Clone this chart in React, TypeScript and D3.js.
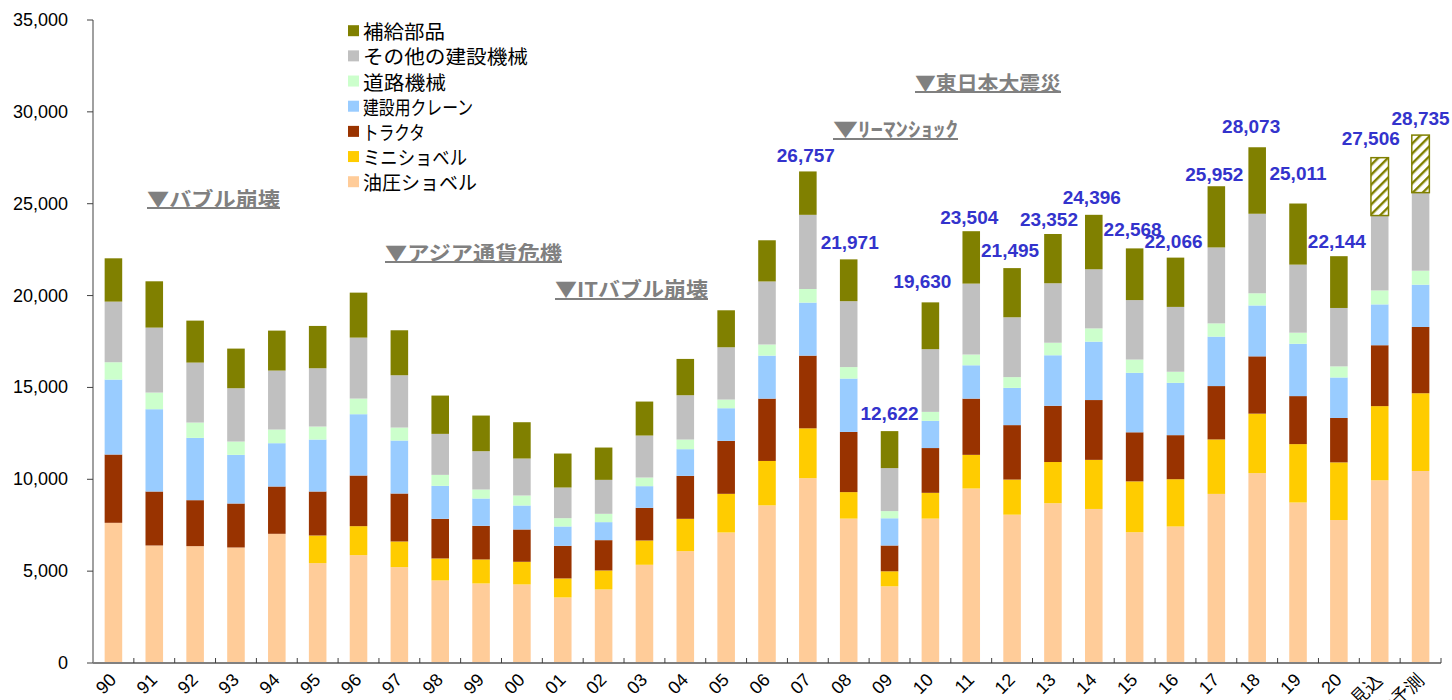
import React from "react";
import * as d3 from "d3";

// ---------- data ----------
const years = ["90","91","92","93","94","95","96","97","98","99","00","01","02","03","04","05","06","07","08","09","10","11","12","13","14","15","16","17","18","19","20","21見込","22予測"];

const hydraulicExcavators = [7631,6397,6361,6288,7032,5436,5871,5219,4493,4330,4276,3568,4004,5346,6089,7105,8580,10062,7859,4173,7859,9497,8073,8697,8385,7118,7430,9204,10335,8736,7781,9945,10452];
const miniExcavators = [0,0,0,0,0,1505,1578,1396,1197,1306,1233,1034,1033,1323,1759,2103,2418,2711,1443,819,1404,1833,1911,2243,2672,2769,2574,2964,3237,3179,3139,4037,4232];
const tractors = [3717,2938,2502,2394,2575,2394,2756,2611,2158,1831,1759,1777,1650,1777,2339,2883,3393,3958,3276,1404,2437,3061,2964,3061,3256,2671,2398,2906,3120,2613,2418,3315,3607];
const cranes = [4080,4479,3391,2647,2357,2829,3337,2883,1795,1487,1305,1052,980,1179,1451,1777,2340,2886,2905,1482,1482,1814,2028,2750,3179,3237,2847,2691,2769,2847,2204,2223,2301];
const roadMachinery = [943,906,834,726,744,707,852,707,598,490,544,453,453,471,526,472,605,741,624,390,488,585,585,682,721,722,605,721,663,604,604,760,761];
const otherMachinery = [3300,3536,3264,2901,3209,3173,3318,2847,2231,2085,2013,1668,1849,2285,2411,2846,3432,4037,3588,2340,3412,3861,3257,3237,3218,3237,3529,4134,4329,3705,3179,4076,4251];
const spareParts = [2357,2521,2285,2158,2176,2303,2448,2448,2085,1940,1976,1850,1759,1850,1977,2013,2242,2362,2276,2014,2548,2853,2677,2682,2965,2814,2683,3332,3620,3327,2819,3150,3131];

const seriesNames = ["油圧ショベル","ミニショベル","トラクタ","建設用クレーン","道路機械","その他の建設機械","補給部品"];
const seriesValues = [hydraulicExcavators, miniExcavators, tractors, cranes, roadMachinery, otherMachinery, spareParts];
const seriesColors = ["#FFCC99","#FFCC00","#993300","#99CCFF","#CCFFCC","#C0C0C0","#808000"];

const yTicks = [0,5000,10000,15000,20000,25000,30000,35000];
const labeledYears = ["07","08","09","10","11","12","13","14","15","16","17","18","19","20","21見込","22予測"];
const forecastYears = ["21見込","22予測"];
const eventLabels = ["▼バブル崩壊","▼アジア通貨危機","▼ITバブル崩壊","▼ﾘｰﾏﾝｼｮｯｸ","▼東日本大震災"];

// ---------- layout (not data) ----------
const W = 1452, H = 700;
const X0 = 93, X1 = 1441, YB = 663, YT = 20;
// label placement tweaks: [dx, distance above bar top]
const labelPlacement: Record<string, [number, number]> = {
  "07": [-2, 16], "08": [1, 17], "09": [0, 18], "10": [-8, 21], "11": [-2, 14],
  "12": [-2, 18], "13": [-4, 14], "14": [-2, 17], "15": [-2, 19], "16": [-2, 16],
  "17": [-2, 12], "18": [-6, 21], "19": [0, 30], "20": [-2, 15], "21見込": [-9, 19], "22予測": [0, 17],
};
const eventPlacement = [
  { x: 147, y: 198, w: 133, u: 208 },
  { x: 385, y: 252, w: 177, u: 262 },
  { x: 555, y: 288, w: 153, u: 299 },
  { x: 833, y: 128, w: 125, u: 139 },
  { x: 915, y: 82, w: 146, u: 92 },
];
// legend text widths (bottom series first)
const legendWidths = [114, 104, 62, 110, 83, 165, 82];

export default function App() {
  const x = d3.scaleBand<string>().domain(years).range([X0, X1]).paddingInner(0.57).paddingOuter(0.285);
  const y = d3.scaleLinear().domain([0, 35000]).range([YB, YT]);
  const step = x.step();
  const bw = x.bandwidth();

  const table = years.map((yr, i) => {
    const row: any = { year: yr };
    seriesNames.forEach((s, k) => (row[s] = seriesValues[k][i]));
    return row;
  });
  const stacked = d3.stack<any>().keys(seriesNames)(table);
  const totals = table.map((r) => d3.sum(seriesNames, (s) => r[s] as number));
  const fmt = d3.format(",");

  const cjk = "'Noto Sans CJK JP', 'Noto Sans', sans-serif";
  const latin = "'Liberation Sans', Arial, sans-serif";
  const olive = seriesColors[6];

  return (
    <svg width={W} height={H} style={{ position: "absolute", left: 0, top: 0, background: "#fff" }}>
      <defs>
        <pattern id="hatch" patternUnits="userSpaceOnUse" width={7} height={7} patternTransform="rotate(45)">
          <rect x={0} y={0} width={7} height={7} fill="#fff" />
          <rect x={0} y={0} width={2.4} height={7} fill={olive} />
        </pattern>
      </defs>

      {/* bars */}
      {stacked.map((layer, k) => (
        <g key={layer.key}>
          {layer.map((d, i) => {
            const yr = years[i];
            const isForecastParts = k === 6 && forecastYears.includes(yr);
            const h = y(d[0]) - y(d[1]);
            if (h <= 0) return null;
            return (
              <rect
                key={yr}
                x={x(yr)!}
                y={y(d[1])}
                width={bw}
                height={h}
                fill={isForecastParts ? "url(#hatch)" : seriesColors[k]}
                stroke={isForecastParts ? olive : "none"}
                strokeWidth={isForecastParts ? 1.5 : 0}
              />
            );
          })}
        </g>
      ))}

      {/* y axis */}
      <line x1={X0} x2={X0} y1={YT} y2={YB} stroke="#808080" strokeWidth={1.5} />
      {yTicks.map((t) => (
        <g key={t}>
          <line x1={X0 - 6} x2={X0} y1={y(t)} y2={y(t)} stroke="#404040" strokeWidth={1} />
          <text x={68} y={y(t)} textAnchor="end" dominantBaseline="central" fontFamily={latin} fontSize={18} fill="#000">
            {fmt(t)}
          </text>
        </g>
      ))}

      {/* x axis */}
      <line x1={X0} x2={X1} y1={YB} y2={YB} stroke="#808080" strokeWidth={2} />
      {years.map((yr) => (
        <line key={"t" + yr} x1={x(yr)! - (step - bw) / 2 + step} x2={x(yr)! - (step - bw) / 2 + step} y1={YB} y2={YB - 5} stroke="#404040" strokeWidth={1} />
      ))}
      {years.map((yr) => {
        const cx = x(yr)! + bw / 2 + 4;
        const cy = 681;
        return (
          <text key={"l" + yr} x={cx} y={cy} textAnchor="end" fontFamily={latin} fontSize={18} fill="#000" transform={`rotate(-45 ${cx} ${cy})`}>
            {yr}
          </text>
        );
      })}

      {/* value labels */}
      {years.map((yr, i) => {
        if (!labeledYears.includes(yr)) return null;
        const [dx, above] = labelPlacement[yr] || [0, 16];
        return (
          <text key={"v" + yr} x={x(yr)! + bw / 2 + dx} y={y(totals[i]) - above} textAnchor="middle" dominantBaseline="central" fontFamily={latin} fontWeight="bold" fontSize={19} fill="#3333CC">
            {fmt(totals[i])}
          </text>
        );
      })}

      {/* event annotations */}
      {eventLabels.map((t, i) => {
        const p = eventPlacement[i];
        return (
          <g key={t}>
            <text x={p.x} y={p.y} dominantBaseline="central" fontFamily={cjk} fontWeight="bold" fontSize={20} fill="#808080" textLength={p.w} lengthAdjust="spacingAndGlyphs">
              {t}
            </text>
            <line x1={p.x} x2={p.x + p.w} y1={p.u} y2={p.u} stroke="#808080" strokeWidth={2} />
          </g>
        );
      })}

      {/* legend */}
      {seriesNames.slice().reverse().map((s, j) => {
        const k = seriesNames.length - 1 - j;
        const cy = 30.7 + j * 25.17;
        return (
          <g key={"lg" + s}>
            <rect x={348} y={cy - 5.5} width={11} height={11} fill={seriesColors[k]} />
            <text x={363} y={cy} dominantBaseline="central" fontFamily={cjk} fontSize={19.5} fill="#000" textLength={legendWidths[k]} lengthAdjust="spacingAndGlyphs">
              {s}
            </text>
          </g>
        );
      })}
    </svg>
  );
}
